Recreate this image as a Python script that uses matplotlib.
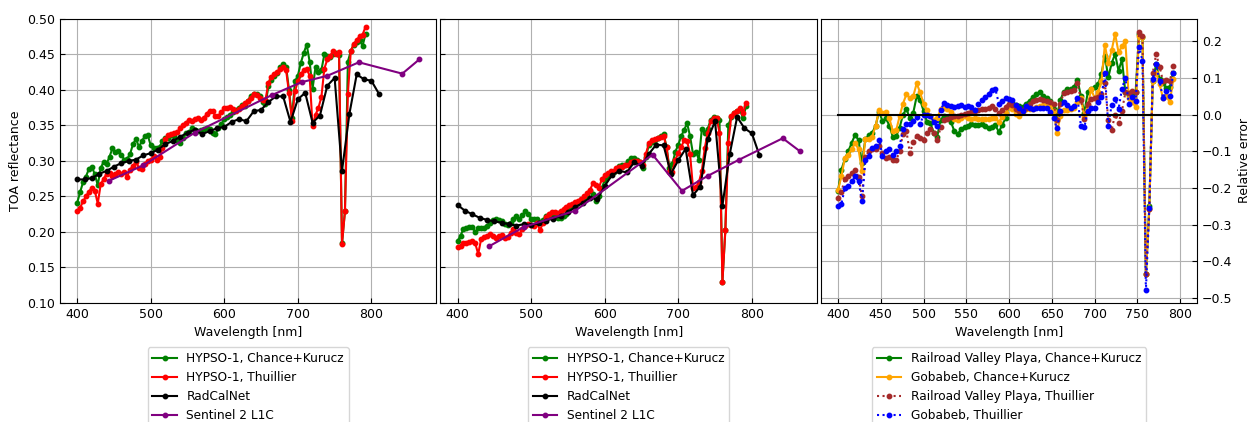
import matplotlib
matplotlib.use("Agg")
import matplotlib.pyplot as plt

plt.rcParams["font.size"] = 9

# HYPSO-1 band centres [nm]
hypso_wl = [400, 404, 408, 412, 416, 420, 424, 428, 432, 436,
            440, 444, 448, 452, 456, 460, 464, 468, 472, 476,
            480, 484, 488, 492, 496, 500, 504, 508, 512, 516,
            520, 524, 528, 532, 536, 540, 544, 548, 552, 556,
            560, 564, 568, 572, 576, 580, 584, 588, 592, 596,
            600, 604, 608, 612, 616, 620, 624, 628, 632, 636,
            640, 644, 648, 652, 656, 660, 664, 668, 672, 676,
            680, 684, 688, 692, 696, 700, 704, 708, 712, 716,
            720, 724, 728, 732, 736, 740, 744, 748, 752, 756,
            760, 764, 768, 772, 776, 780, 784, 788, 792]

radcal_wl = [400, 410, 420, 430, 440, 450, 460, 470, 480, 490,
             500, 510, 520, 530, 540, 550, 560, 570, 580, 590,
             600, 610, 620, 630, 640, 650, 660, 670, 680, 690,
             700, 710, 720, 730, 740, 750, 760, 770, 780, 790,
             800, 810]

s2_wl = [443, 490, 560, 665, 705, 740, 783, 842, 865]

# --- left panel: Railroad Valley Playa
rvp_ck = [0.241, 0.256, 0.270, 0.278, 0.289, 0.292, 0.281, 0.266, 0.290, 0.299,
          0.296, 0.306, 0.318, 0.313, 0.314, 0.309, 0.302, 0.303, 0.310, 0.324,
          0.331, 0.320, 0.328, 0.335, 0.336, 0.322, 0.318, 0.319, 0.320, 0.328,
          0.332, 0.333, 0.336, 0.335, 0.330, 0.326, 0.333, 0.339, 0.341, 0.346,
          0.344, 0.342, 0.344, 0.345, 0.347, 0.345, 0.340, 0.338, 0.346, 0.352,
          0.359, 0.362, 0.365, 0.369, 0.372, 0.375, 0.379, 0.378, 0.384, 0.392,
          0.394, 0.394, 0.391, 0.383, 0.380, 0.405, 0.414, 0.420, 0.424, 0.432,
          0.436, 0.433, 0.400, 0.360, 0.412, 0.420, 0.438, 0.452, 0.464, 0.440,
          0.402, 0.432, 0.425, 0.428, 0.450, 0.448, 0.447, 0.450, 0.452, 0.449,
          0.184, 0.229, 0.440, 0.455, 0.463, 0.467, 0.470, 0.462, 0.479]
rvp_th = [0.229, 0.234, 0.243, 0.250, 0.257, 0.262, 0.258, 0.240, 0.267, 0.275,
          0.282, 0.283, 0.279, 0.281, 0.284, 0.281, 0.285, 0.278, 0.288, 0.293,
          0.299, 0.290, 0.289, 0.296, 0.300, 0.301, 0.307, 0.301, 0.305, 0.318,
          0.331, 0.336, 0.338, 0.339, 0.341, 0.346, 0.350, 0.354, 0.358, 0.356,
          0.359, 0.360, 0.358, 0.360, 0.366, 0.371, 0.371, 0.363, 0.363, 0.369,
          0.374, 0.374, 0.376, 0.373, 0.370, 0.373, 0.377, 0.381, 0.384, 0.389,
          0.395, 0.393, 0.389, 0.386, 0.386, 0.410, 0.418, 0.423, 0.426, 0.429,
          0.433, 0.428, 0.396, 0.357, 0.398, 0.412, 0.422, 0.428, 0.430, 0.420,
          0.349, 0.365, 0.375, 0.390, 0.430, 0.443, 0.448, 0.455, 0.451, 0.454,
          0.183, 0.229, 0.395, 0.455, 0.465, 0.470, 0.476, 0.478, 0.489]
rvp_radcal = [0.274, 0.274, 0.276, 0.282, 0.286, 0.292, 0.297, 0.300, 0.302, 0.308,
              0.311, 0.316, 0.324, 0.328, 0.334, 0.340, 0.344, 0.338, 0.342, 0.346,
              0.348, 0.355, 0.359, 0.356, 0.370, 0.372, 0.383, 0.391, 0.391, 0.355,
              0.387, 0.396, 0.354, 0.364, 0.406, 0.417, 0.286, 0.366, 0.422, 0.415,
              0.413, 0.395]
rvp_s2 = [0.272, 0.294, 0.340, 0.393, 0.411, 0.420, 0.439, 0.423, 0.443]

# --- middle panel: Gobabeb
gob_ck = [0.187, 0.195, 0.204, 0.205, 0.207, 0.207, 0.200, 0.205, 0.206, 0.206,
          0.209, 0.213, 0.217, 0.218, 0.217, 0.215, 0.211, 0.210, 0.212, 0.219,
          0.222, 0.218, 0.224, 0.229, 0.225, 0.219, 0.218, 0.218, 0.214, 0.217,
          0.222, 0.222, 0.221, 0.221, 0.220, 0.220, 0.223, 0.226, 0.233, 0.236,
          0.237, 0.241, 0.244, 0.246, 0.250, 0.258, 0.254, 0.243, 0.250, 0.262,
          0.273, 0.279, 0.283, 0.285, 0.288, 0.293, 0.295, 0.295, 0.300, 0.304,
          0.304, 0.302, 0.298, 0.290, 0.305, 0.323, 0.327, 0.330, 0.333, 0.335,
          0.338, 0.320, 0.290, 0.296, 0.313, 0.323, 0.335, 0.344, 0.353, 0.335,
          0.310, 0.313, 0.302, 0.345, 0.340, 0.345, 0.358, 0.362, 0.360, 0.358,
          0.130, 0.203, 0.350, 0.362, 0.368, 0.370, 0.372, 0.360, 0.377]
gob_th = [0.179, 0.180, 0.185, 0.184, 0.186, 0.187, 0.184, 0.169, 0.190, 0.193,
          0.195, 0.197, 0.195, 0.191, 0.194, 0.196, 0.192, 0.193, 0.199, 0.204,
          0.198, 0.197, 0.204, 0.208, 0.211, 0.210, 0.208, 0.212, 0.203, 0.212,
          0.221, 0.226, 0.228, 0.228, 0.227, 0.229, 0.232, 0.235, 0.238, 0.240,
          0.242, 0.244, 0.247, 0.250, 0.255, 0.259, 0.269, 0.266, 0.262, 0.274,
          0.280, 0.283, 0.286, 0.286, 0.290, 0.291, 0.292, 0.294, 0.295, 0.298,
          0.300, 0.300, 0.299, 0.295, 0.310, 0.325, 0.329, 0.331, 0.332, 0.334,
          0.335, 0.320, 0.285, 0.285, 0.302, 0.311, 0.320, 0.329, 0.328, 0.310,
          0.262, 0.263, 0.270, 0.286, 0.318, 0.340, 0.356, 0.361, 0.361, 0.340,
          0.130, 0.203, 0.325, 0.363, 0.368, 0.371, 0.374, 0.367, 0.382]
gob_radcal = [0.238, 0.230, 0.225, 0.220, 0.217, 0.215, 0.213, 0.211, 0.209, 0.211,
              0.210, 0.212, 0.216, 0.219, 0.222, 0.228, 0.235, 0.241, 0.248, 0.246,
              0.265, 0.280, 0.286, 0.284, 0.298, 0.293, 0.310, 0.323, 0.322, 0.282,
              0.301, 0.317, 0.252, 0.264, 0.331, 0.356, 0.237, 0.310, 0.362, 0.346,
              0.339, 0.309]
gob_s2 = [0.180, 0.207, 0.230, 0.309, 0.258, 0.279, 0.302, 0.332, 0.314]

# --- right panel: relative error
err_rvp_ck = [-0.208, -0.150, -0.121, -0.100, -0.077, -0.055, -0.070, -0.132, -0.066, -0.057,
              -0.050, -0.030, 0.008, -0.018, -0.010, -0.030, -0.060, -0.059, -0.036, 0.000,
              0.015, -0.010, 0.005, 0.050, 0.040, 0.010, -0.020, -0.023, -0.050, -0.060,
              -0.014, -0.005, -0.008, -0.020, -0.045, -0.053, -0.040, -0.034, -0.030, -0.026,
              -0.028, -0.028, -0.026, -0.032, -0.036, -0.035, -0.028, -0.048, -0.028, -0.010,
              0.027, 0.032, 0.025, 0.022, 0.021, 0.030, 0.038, 0.048, 0.055, 0.060,
              0.050, 0.045, 0.038, 0.015, -0.005, 0.040, 0.062, 0.069, 0.069, 0.075,
              0.095, 0.050, 0.005, 0.060, 0.070, 0.075, 0.082, 0.110, 0.160, 0.101,
              0.140, 0.165, 0.119, 0.150, 0.060, 0.052, 0.057, 0.060, 0.220, 0.210,
              -0.435, -0.250, 0.091, 0.137, 0.096, 0.085, 0.072, 0.075, 0.114]
err_gob_ck = [-0.206, -0.168, -0.118, -0.109, -0.095, -0.077, -0.095, -0.155, -0.066, -0.066,
              -0.060, -0.030, 0.012, 0.005, 0.008, -0.010, -0.045, -0.043, -0.005, 0.030,
              0.055, 0.045, 0.050, 0.085, 0.060, 0.030, 0.012, -0.005, -0.014, -0.010,
              0.015, 0.018, 0.016, 0.007, -0.012, -0.016, -0.010, -0.005, -0.010, -0.011,
              -0.010, -0.013, -0.012, -0.012, -0.013, -0.010, -0.009, -0.020, -0.007, 0.005,
              0.020, 0.015, 0.002, -0.005, 0.008, 0.014, 0.015, 0.016, 0.020, 0.023,
              0.025, 0.027, 0.022, 0.010, -0.050, -0.005, 0.012, 0.013, 0.014, 0.018,
              0.035, 0.046, -0.005, 0.025, 0.069, 0.045, 0.060, 0.090, 0.190, 0.140,
              0.175, 0.220, 0.169, 0.186, 0.200, 0.045, 0.035, 0.020, 0.215, 0.210,
              -0.435, -0.256, 0.091, 0.114, 0.082, 0.045, 0.050, 0.033, 0.096]
err_rvp_th = [-0.226, -0.210, -0.175, -0.168, -0.160, -0.150, -0.170, -0.223, -0.115, -0.100,
              -0.095, -0.093, -0.085, -0.105, -0.118, -0.115, -0.123, -0.125, -0.100, -0.052,
              -0.045, -0.105, -0.075, -0.059, -0.063, -0.068, -0.050, -0.040, -0.050, -0.070,
              -0.035, -0.015, -0.012, -0.008, -0.005, -0.004, -0.002, 0.002, 0.005, 0.008,
              0.010, 0.013, 0.015, 0.016, 0.018, 0.023, 0.016, 0.005, 0.012, 0.020,
              0.030, 0.025, 0.015, 0.010, 0.012, 0.018, 0.028, 0.037, 0.040, 0.041,
              0.039, 0.036, 0.034, 0.030, -0.014, 0.030, 0.059, 0.061, 0.063, 0.066,
              0.085, 0.040, -0.012, 0.030, 0.042, 0.046, 0.048, 0.055, 0.087, -0.014,
              -0.041, 0.000, -0.023, 0.010, 0.060, 0.058, 0.064, 0.060, 0.225, 0.215,
              -0.435, -0.256, 0.114, 0.165, 0.130, 0.091, 0.094, 0.091, 0.133]
err_gob_th = [-0.250, -0.243, -0.200, -0.195, -0.182, -0.168, -0.182, -0.236, -0.125, -0.112,
              -0.090, -0.086, -0.068, -0.112, -0.100, -0.095, -0.109, -0.100, -0.086, -0.040,
              -0.025, -0.025, -0.018, -0.008, -0.027, 0.000, 0.000, -0.005, -0.020, -0.030,
              0.012, 0.032, 0.026, 0.024, 0.021, 0.024, 0.025, 0.021, 0.022, 0.020,
              0.012, 0.030, 0.040, 0.047, 0.055, 0.068, 0.070, 0.030, 0.036, 0.044,
              0.041, 0.040, 0.026, 0.018, 0.009, 0.023, 0.018, 0.016, 0.017, 0.018,
              0.018, 0.017, 0.008, -0.010, -0.037, 0.010, 0.035, 0.027, 0.019, 0.022,
              0.045, -0.030, -0.035, 0.010, 0.018, 0.018, 0.035, 0.048, 0.114, -0.030,
              0.027, 0.043, 0.014, 0.070, 0.100, 0.030, 0.048, 0.037, 0.185, 0.146,
              -0.478, -0.254, 0.096, 0.137, 0.090, 0.045, 0.064, 0.050, 0.114]
zero_wl = [400, 800]
zero_val = [0, 0]

MK = dict(marker="o", markersize=3.2, linewidth=1.5)


def plot_reflectance(ax, ck, th, radcal, s2):
    ax.plot(hypso_wl, ck, color="green", label="HYPSO-1, Chance+Kurucz", **MK)
    ax.plot(hypso_wl, th, color="red", label="HYPSO-1, Thuillier", **MK)
    ax.plot(radcal_wl, radcal, color="black", label="RadCalNet", **MK)
    ax.plot(s2_wl, s2, color="purple", label="Sentinel 2 L1C", **MK)
    ax.set_xlabel("Wavelength [nm]")
    ax.set_xticks([400, 500, 600, 700, 800])
    ax.set_ylim(0.1, 0.5)
    ax.grid(True)
    ax.tick_params(direction="in")
    ax.legend(loc="upper center", bbox_to_anchor=(0.5, -0.135), fontsize=8.7)


def main():
    fig, ax = plt.subplots(1, 3, figsize=(12.51, 4.22), dpi=100)
    fig.subplots_adjust(left=0.048, right=0.957, top=0.955, bottom=0.282, wspace=0.011)

    plot_reflectance(ax[0], rvp_ck, rvp_th, rvp_radcal, rvp_s2)
    ax[0].set_ylabel("TOA reflectance")

    plot_reflectance(ax[1], gob_ck, gob_th, gob_radcal, gob_s2)
    ax[1].set_yticklabels([])

    a = ax[2]
    a.plot(hypso_wl, err_rvp_ck, color="green", label="Railroad Valley Playa, Chance+Kurucz", **MK)
    a.plot(hypso_wl, err_gob_ck, color="orange", label="Gobabeb, Chance+Kurucz", **MK)
    a.plot(hypso_wl, err_rvp_th, color="brown", linestyle=":",
           label="Railroad Valley Playa, Thuillier", **MK)
    a.plot(hypso_wl, err_gob_th, color="blue", linestyle=":", label="Gobabeb, Thuillier", **MK)
    a.plot(zero_wl, zero_val, color="black", linewidth=1.5)
    a.set_xticks([400, 450, 500, 550, 600, 650, 700, 750, 800])
    a.set_yticks([-0.5, -0.4, -0.3, -0.2, -0.1, 0.0, 0.1, 0.2])
    a.yaxis.tick_right()
    a.yaxis.set_label_position("right")
    a.set_ylabel("Relative error")
    a.set_xlabel("Wavelength [nm]")
    a.grid(True)
    a.tick_params(direction="in")
    a.legend(loc="upper center", bbox_to_anchor=(0.5, -0.135), fontsize=8.7)

    fig.savefig("out.png", dpi=100)


if __name__ == "__main__":
    main()
